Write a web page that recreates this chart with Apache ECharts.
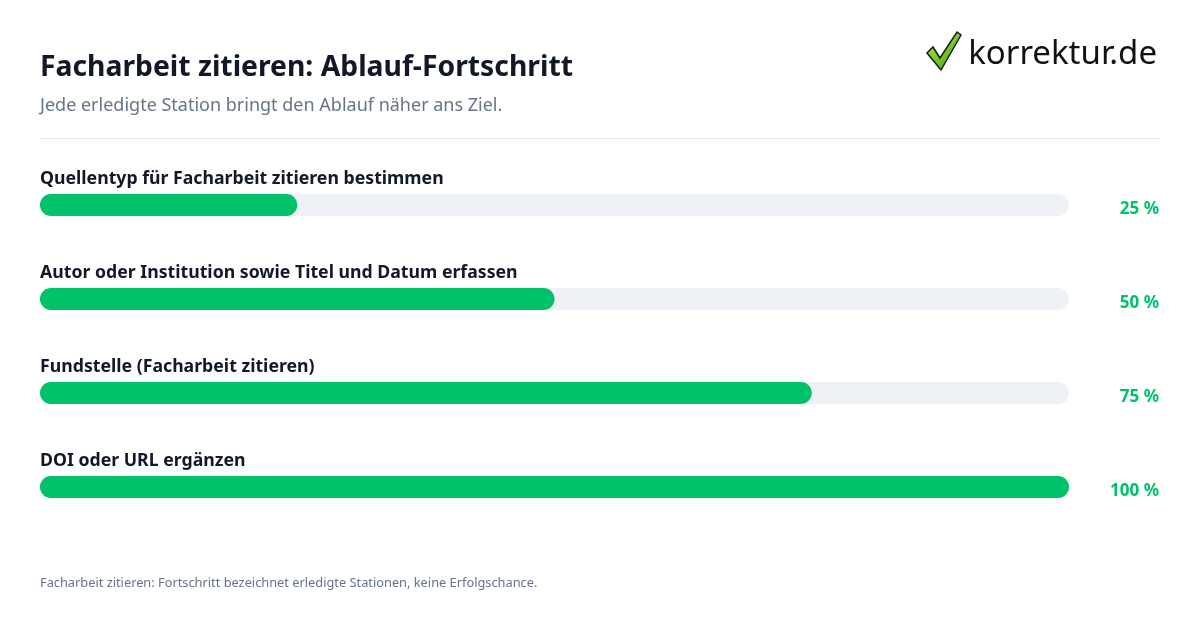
<!DOCTYPE html>
<html><head><meta charset="utf-8">
<script src="https://cdn.jsdelivr.net/npm/echarts@6/dist/echarts.min.js"></script>
<style>html,body{margin:0;padding:0;background:#fff}#c{width:1200px;height:630px}</style>
</head><body><div id="c"></div>
<script>
const categories = [
  'Quellentyp für Facharbeit zitieren bestimmen',
  'Autor oder Institution sowie Titel und Datum erfassen',
  'Fundstelle (Facharbeit zitieren)',
  'DOI oder URL ergänzen'
];
const values = [25, 50, 75, 100];
const valueLabels = values.map(v => v + ' %');

const FONT = '"Noto Sans", "Open Sans", sans-serif';
const chart = echarts.init(document.getElementById('c'), null, {renderer: 'canvas'});
chart.setOption({
  backgroundColor: '#ffffff',
  animation: false,
  grid: {left: 40, right: 131, top: 158, bottom: 96, containLabel: false},
  xAxis: {type: 'value', min: 0, max: 100, show: false},
  yAxis: [
    {type: 'category', data: categories, inverse: true, show: false},
    {type: 'category', data: valueLabels, inverse: true, position: 'right',
     axisLine: {show: false}, axisTick: {show: false},
     axisLabel: {align: 'right', margin: 90,
       formatter: v => '{v|' + v + '}',
       rich: {v: {color: '#00c26b', fontFamily: FONT, fontWeight: 'bold', fontSize: 17, padding: [8, 0, 0, 0]}}}}
  ],
  series: [{
    type: 'bar',
    data: values,
    yAxisIndex: 0,
    barWidth: 22,
    showBackground: true,
    backgroundStyle: {color: '#eef2f7', borderRadius: 11},
    itemStyle: {color: '#00c26b', borderRadius: 11},
    label: {
      show: true,
      formatter: '{b}',
      position: [0, -15],
      align: 'left',
      verticalAlign: 'middle',
      color: '#111827',
      fontFamily: FONT,
      fontWeight: 'bold',
      fontSize: 17.7
    }
  }],
  graphic: [
    {type: 'text', left: 40, top: 54, style: {text: 'Facharbeit zitieren: Ablauf-Fortschritt', fill: '#111827', font: 'bold 28.3px ' + FONT}},
    {type: 'text', left: 40, top: 97, style: {text: 'Jede erledigte Station bringt den Ablauf näher ans Ziel.', fill: '#64748b', font: '18px ' + FONT}},
    {type: 'line', shape: {x1: 40, y1: 138.5, x2: 1160, y2: 138.5}, style: {stroke: '#e2e8f0', lineWidth: 1}},
    {type: 'text', left: 40, top: 577, style: {text: 'Facharbeit zitieren: Fortschritt bezeichnet erledigte Stationen, keine Erfolgschance.', fill: '#64748b', font: '12.8px ' + FONT}},
    {type: 'polygon', shape: {points: [[927,53],[933,47],[940,58],[957,32],[961,35],[941,70]]},
     style: {fill: new echarts.graphic.LinearGradient(0,0,1,1,[{offset:0,color:'#b8f545'},{offset:1,color:'#3a9e0c'}]), stroke: '#1a1a1a', lineWidth: 1.5}},
    {type: 'text', right: 43, top: 38, style: {text: 'korrektur.de', fill: '#111111', font: '33px ' + FONT}}
  ]
});
</script></body></html>
